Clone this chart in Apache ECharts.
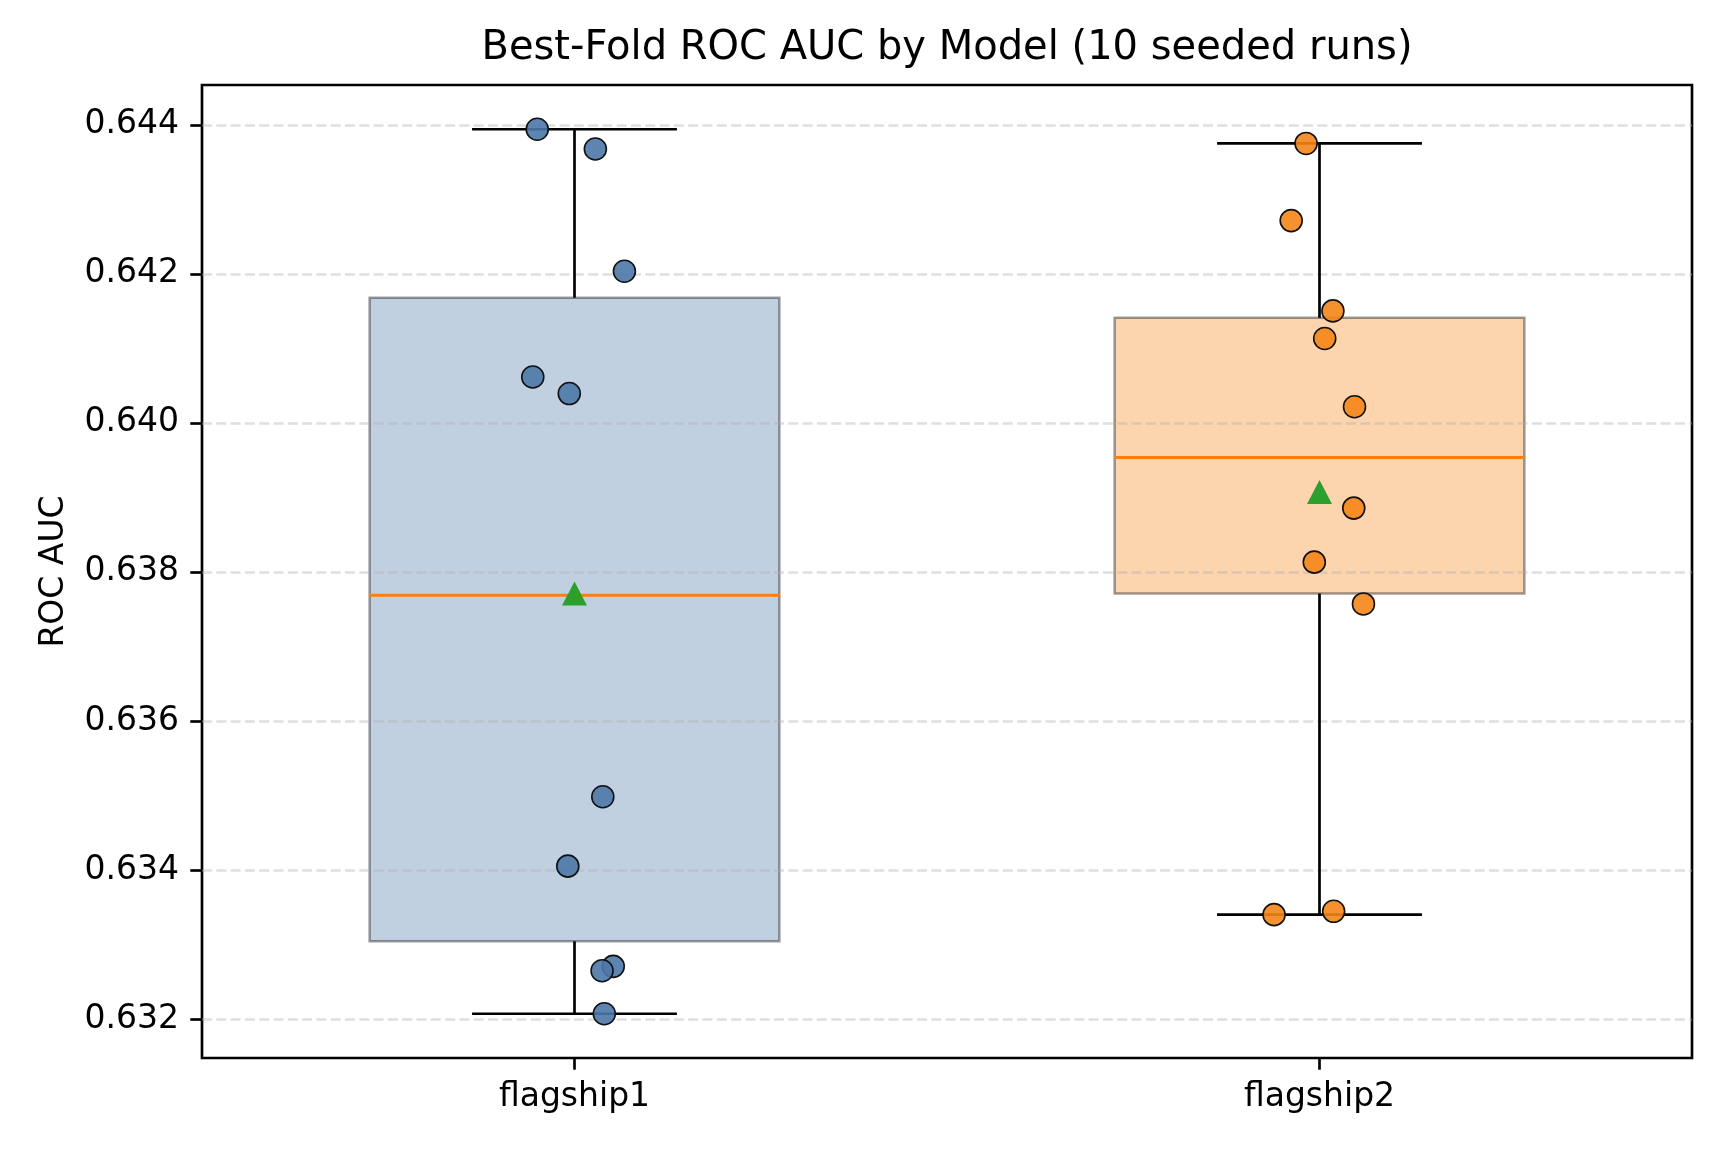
<!DOCTYPE html>
<html>
<head>
<meta charset="utf-8">
<script src="https://cdn.jsdelivr.net/npm/echarts@6/dist/echarts.min.js"></script>
<style>
  html, body { margin: 0; padding: 0; background: #fff; }
  #chart { width: 1728px; height: 1152px; }
</style>
</head>
<body>
<div id="chart"></div>
<script>
// model names on the x axis
const models = ['flagship1', 'flagship2'];
// best-fold ROC AUC of the 10 seeded runs
const flagship1Auc = [0.64394, 0.643675, 0.642034, 0.640615, 0.640393, 0.634983, 0.634052, 0.632707, 0.632648, 0.632071];
const flagship2Auc = [0.643749, 0.642714, 0.641502, 0.641132, 0.640216, 0.638856, 0.638131, 0.637570, 0.633401, 0.633446];
// horizontal jitter of each dot (category units)
const flagship1Jitter = [-0.050, 0.028, 0.067, -0.056, -0.007, 0.038, -0.009, 0.052, 0.037, 0.040];
const flagship2Jitter = [-0.018, -0.038, 0.018, 0.007, 0.047, 0.046, -0.007, 0.059, -0.061, 0.019];
// y tick labels
const yTicks = [0.632, 0.634, 0.636, 0.638, 0.640, 0.642, 0.644];

const FONT = 'DejaVu Sans';
const BOX_HALF = 0.275;
const CAP_HALF = 0.1375;
const fills = ['rgba(76,120,168,0.35)', 'rgba(245,133,24,0.35)'];
const dots = ['rgba(76,120,168,0.9)', 'rgba(245,133,24,0.9)'];

// numpy style linear quantile
function quantile(arr, q) {
  const s = arr.slice().sort((a, b) => a - b);
  const pos = (s.length - 1) * q;
  const lo = Math.floor(pos);
  const hi = Math.ceil(pos);
  return s[lo] + (s[hi] - s[lo]) * (pos - lo);
}

function boxStats(arr, pos) {
  const q1 = quantile(arr, 0.25), med = quantile(arr, 0.5), q3 = quantile(arr, 0.75);
  const iqr = q3 - q1;
  const inside = arr.filter(v => v >= q1 - 1.5 * iqr && v <= q3 + 1.5 * iqr);
  return [pos, Math.min(...inside), q1, med, q3, Math.max(...inside)];
}

const allAuc = [flagship1Auc, flagship2Auc];
const allJitter = [flagship1Jitter, flagship2Jitter];
const stats = allAuc.map((a, i) => boxStats(a, i + 1));
const means = allAuc.map((a, i) => [i + 1, a.reduce((s, v) => s + v, 0) / a.length]);

const flat = flagship1Auc.concat(flagship2Auc);
const dataMin = Math.min(...flat), dataMax = Math.max(...flat);
const pad = (dataMax - dataMin) * 0.05;

function renderBox(params, api) {
  const x = api.value(0);
  const tl = api.coord([x - BOX_HALF, api.value(4)]);
  const br = api.coord([x + BOX_HALF, api.value(2)]);
  return {
    type: 'rect',
    shape: { x: tl[0], y: tl[1], width: br[0] - tl[0], height: br[1] - tl[1] },
    style: { fill: fills[params.dataIndex], stroke: 'rgba(0,0,0,0.38)', lineWidth: 2.5 }
  };
}

function renderWhiskers(params, api) {
  const x = api.value(0);
  const pMin = api.coord([x, api.value(1)]);
  const pQ1 = api.coord([x, api.value(2)]);
  const pQ3 = api.coord([x, api.value(4)]);
  const pMax = api.coord([x, api.value(5)]);
  const capL = api.coord([x - CAP_HALF, 0])[0];
  const capR = api.coord([x + CAP_HALF, 0])[0];
  const medL = api.coord([x - BOX_HALF, api.value(3)]);
  const medR = api.coord([x + BOX_HALF, api.value(3)]);
  const black = { stroke: '#000', lineWidth: 2.7 };
  return {
    type: 'group',
    children: [
      { type: 'line', shape: { x1: pQ3[0], y1: pQ3[1], x2: pMax[0], y2: pMax[1] }, style: black },
      { type: 'line', shape: { x1: pQ1[0], y1: pQ1[1], x2: pMin[0], y2: pMin[1] }, style: black },
      { type: 'line', shape: { x1: capL, y1: pMax[1], x2: capR, y2: pMax[1] }, style: black },
      { type: 'line', shape: { x1: capL, y1: pMin[1], x2: capR, y2: pMin[1] }, style: black },
      { type: 'line', shape: { x1: medL[0], y1: medL[1], x2: medR[0], y2: medR[1] }, style: { stroke: '#ff7f0e', lineWidth: 3 } }
    ]
  };
}

const chart = echarts.init(document.getElementById('chart'));

const option = {
  backgroundColor: '#ffffff',
  animation: false,
  title: {
    text: 'Best-Fold ROC AUC by Model (10 seeded runs)',
    left: 942,
    top: 24,
    textAlign: 'center',
    textStyle: { fontFamily: FONT, fontSize: 40, fontWeight: 'normal', color: '#000' }
  },
  grid: {
    left: 202, right: 36, top: 85, bottom: 94,
    show: true, borderColor: '#000', borderWidth: 2.67, backgroundColor: 'transparent'
  },
  xAxis: {
    type: 'value',
    min: 0.5,
    max: 2.5,
    axisLine: { show: false },
    splitLine: { show: false },
    axisTick: { show: true, customValues: [1, 2], length: 11.7, lineStyle: { color: '#000', width: 2.67 } },
    axisLabel: {
      customValues: [1, 2],
      formatter: v => models[Math.round(v) - 1],
      margin: 23,
      fontFamily: FONT, fontSize: 33, color: '#000'
    }
  },
  yAxis: {
    type: 'value',
    z: 2,
    min: dataMin - pad,
    max: dataMax + pad,
    name: 'ROC AUC',
    nameLocation: 'middle',
    nameGap: 131,
    nameTextStyle: { fontFamily: FONT, fontSize: 33, color: '#000' },
    axisLine: { show: false },
    axisTick: { show: true, customValues: yTicks, length: 11.7, lineStyle: { color: '#000', width: 2.67 } },
    axisLabel: {
      customValues: yTicks,
      formatter: v => v.toFixed(3),
      margin: 23,
      fontFamily: FONT, fontSize: 33, color: '#000'
    },
    splitLine: {
      show: true,
      lineStyle: { color: 'rgba(176,176,176,0.4)', width: 2.67, type: [10, 4.3] }
    }
  },
  series: [
    {
      type: 'custom',
      z: 1,
      renderItem: renderBox,
      data: stats,
      encode: { x: 0, y: [1, 2, 3, 4, 5] },
      silent: true
    },
    {
      type: 'custom',
      z: 3,
      renderItem: renderWhiskers,
      data: stats,
      encode: { x: 0, y: [1, 2, 3, 4, 5] },
      silent: true
    },
    ...allAuc.map((arr, i) => ({
      type: 'scatter',
      z: 4,
      symbol: 'circle',
      symbolSize: 22,
      data: arr.map((v, k) => [i + 1 + allJitter[i][k], v]),
      itemStyle: { color: dots[i], borderColor: '#111', borderWidth: 1.6, opacity: 1 }
    })),
    {
      type: 'scatter',
      z: 5,
      symbol: 'triangle',
      symbolSize: [25, 24],
      data: means,
      itemStyle: { color: '#2ca02c', opacity: 1 }
    }
  ]
};

chart.setOption(option);
</script>
</body>
</html>
